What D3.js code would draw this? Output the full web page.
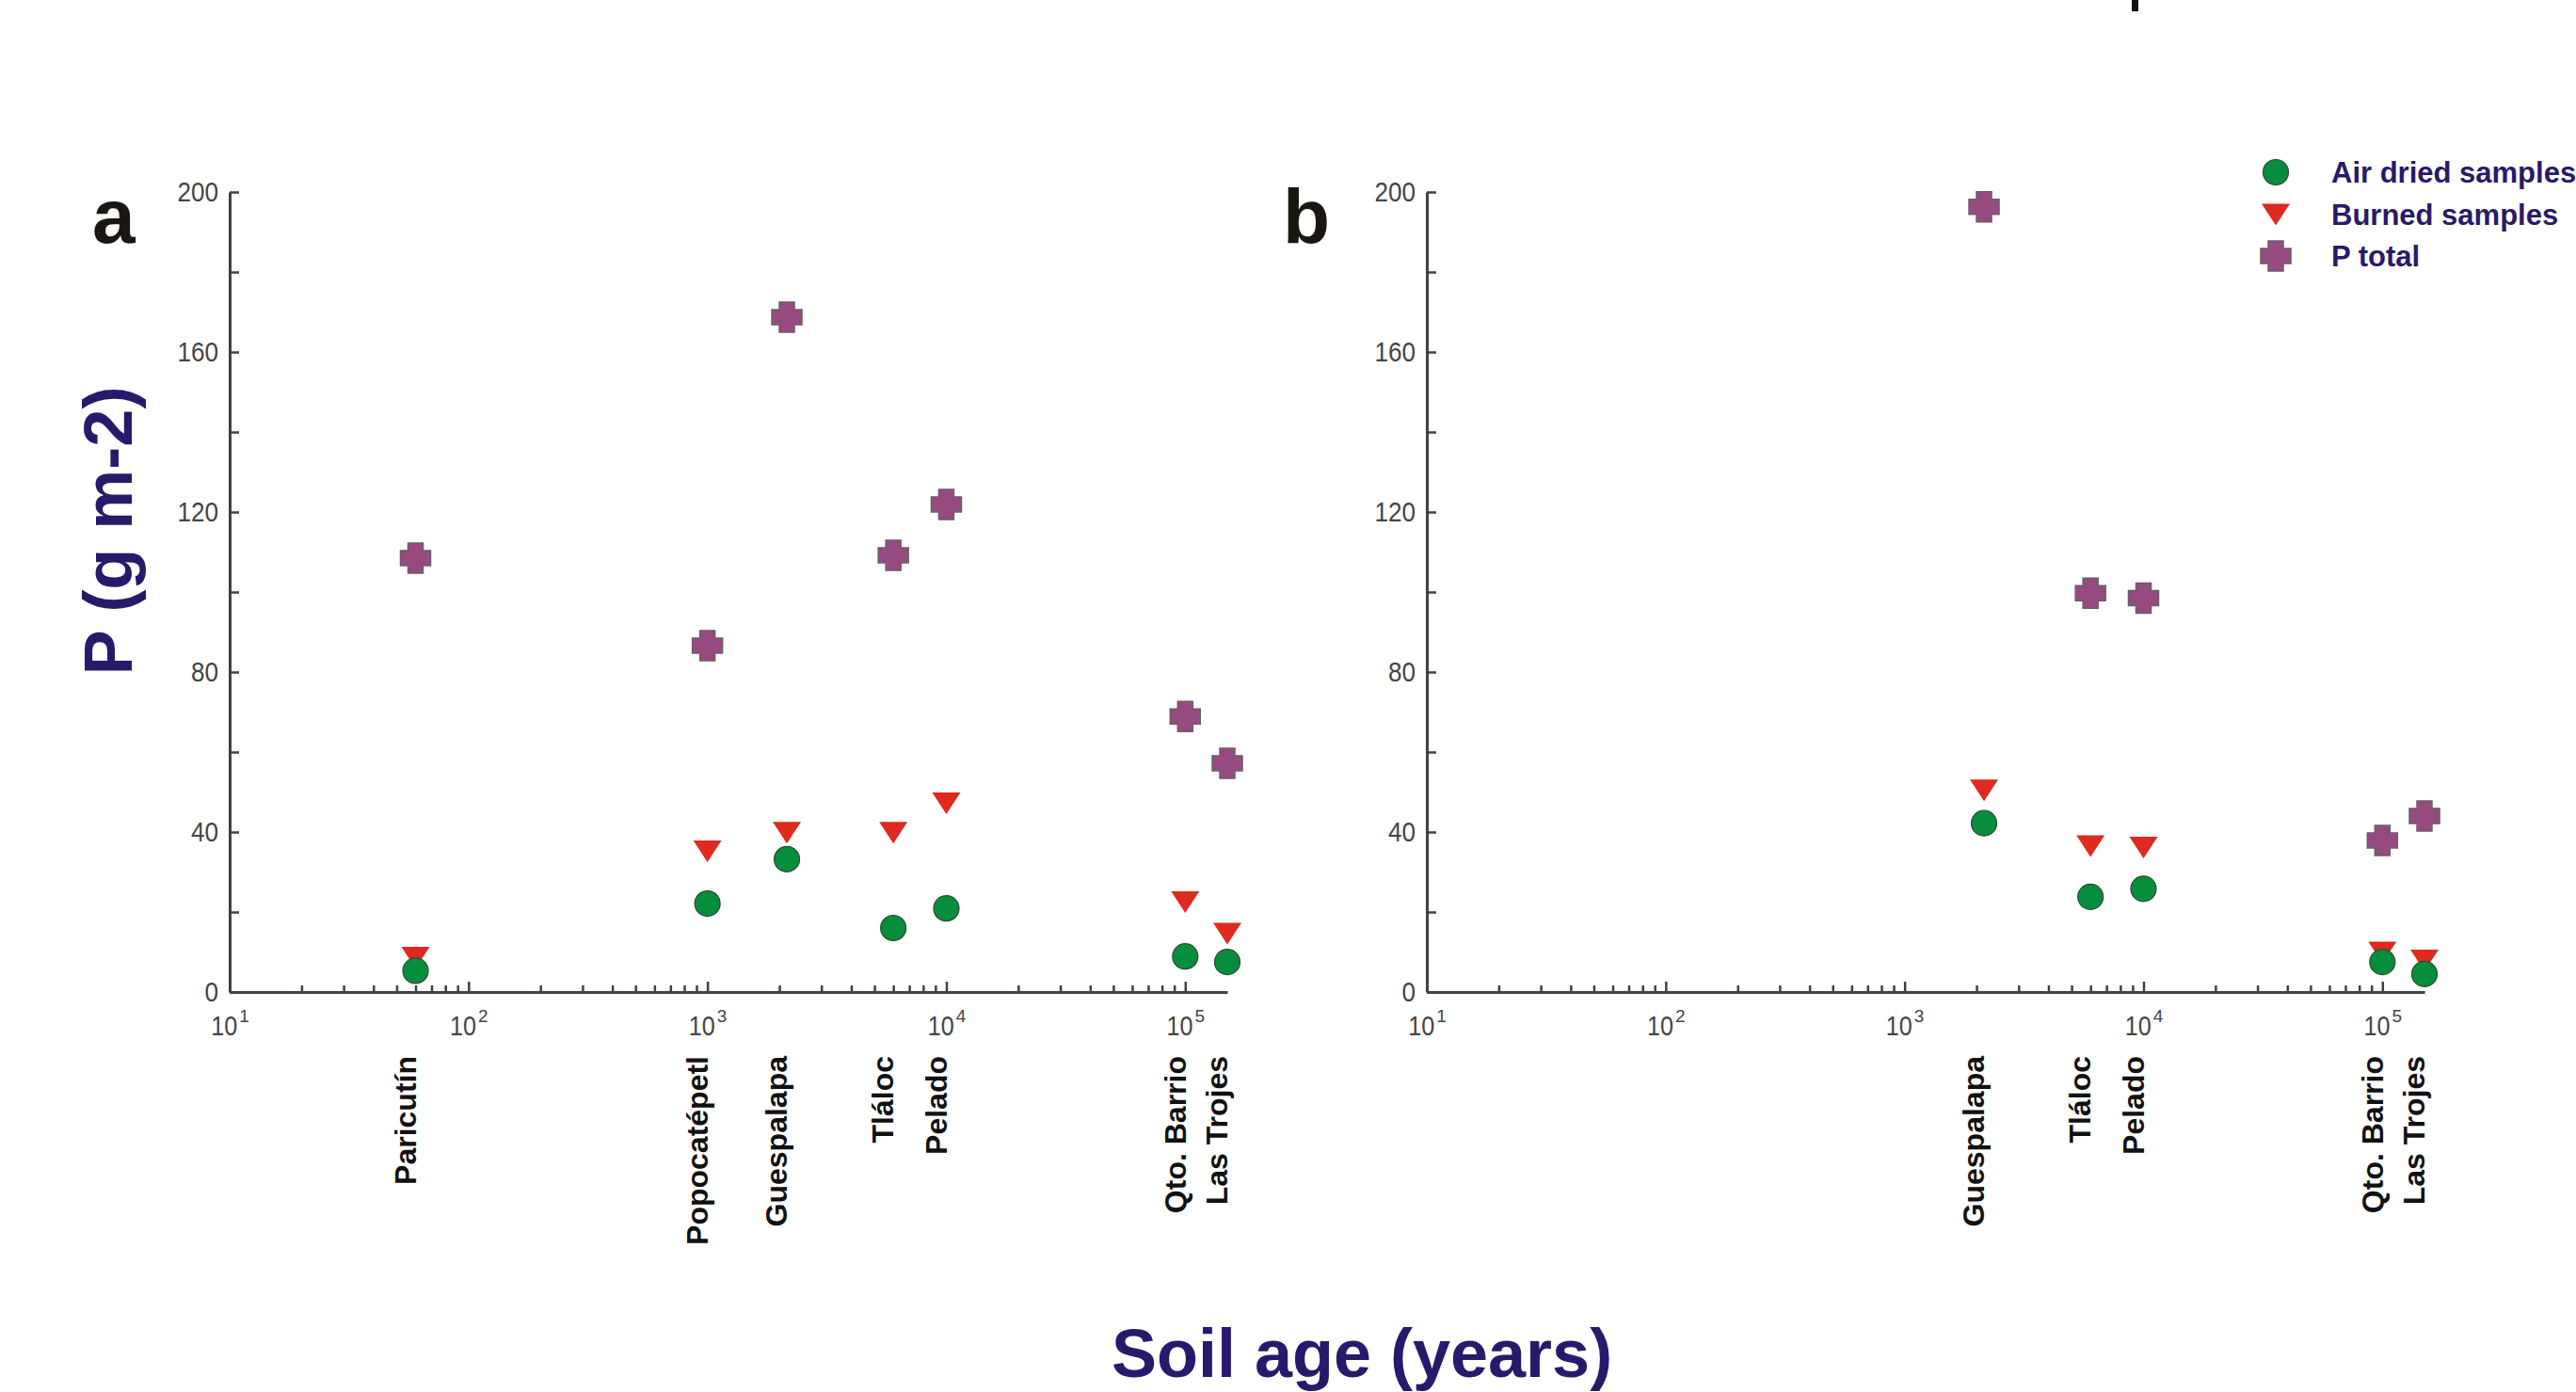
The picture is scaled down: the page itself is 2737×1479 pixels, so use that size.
<!DOCTYPE html>
<html>
<head>
<meta charset="utf-8">
<script src="https://cdn.jsdelivr.net/npm/d3@7"></script>
<style>
    body { margin: 0; background: #fff; }
    text { font-family: "Liberation Sans", Arial, sans-serif; }
    .tick text, .xlbl { font-family: "Liberation Sans Narrow", "Arial Narrow", "Liberation Sans", sans-serif; fill: #454545; }
</style>
</head>
<body>
<svg id="chart"></svg>
<script>
// panel a
const sitesA = ['Paricutín', 'Popocatépetl', 'Guespalapa', 'Tláloc', 'Pelado', 'Qto. Barrio', 'Las Trojes'];
const agesA = [60, 1000, 2150, 6000, 10000, 100000, 150000];
const airA = [5.3, 22.1, 33.2, 16.0, 20.9, 8.9, 7.5];
const burnedA = [8.6, 35.2, 39.8, 39.8, 47.2, 22.5, 14.6];
const totalA = [108.5, 86.6, 168.7, 109.2, 121.9, 68.9, 57.2];

// panel b
const sitesB = ['Guespalapa', 'Tláloc', 'Pelado', 'Qto. Barrio', 'Las Trojes'];
const agesB = [2150, 6000, 10000, 100000, 150000];
const airB = [42.2, 23.8, 25.8, 7.5, 4.5];
const burnedB = [50.4, 36.5, 36.1, 9.9, 7.9];
const totalB = [196.3, 99.7, 98.5, 37.9, 44.0];

// axes
const yTicks = [0, 20, 40, 60, 80, 100, 120, 140, 160, 180, 200];
const yLabels = [0, 40, 80, 120, 160, 200];
const xMajor = [10, 100, 1000, 10000, 100000];
const xExp = ['1', '2', '3', '4', '5'];
const seriesNames = ['Air dried samples', 'Burned samples', 'P total'];

const W = 2737, H = 1479;
const plotW = 1060, plotH = 850;
const navy = '#29196b';
const axisCol = '#3d4247';

const svg = d3.select('#chart').attr('width', W).attr('height', H);
svg.append('rect').attr('width', W).attr('height', H).attr('fill', '#fff');

const x = d3.scaleLog().domain([10, 150000]).range([0, plotW]);
const y = d3.scaleLinear().domain([0, 200]).range([plotH, 0]);

// minor ticks 2..9 for each decade
const xTicks = [];
xMajor.forEach(m => {
    xTicks.push(m);
    if (m < 100000) for (let k = 2; k <= 9; k++) xTicks.push(m * k);
});

// marker shapes
const circlePath = d3.symbol().type(d3.symbolCircle).size(Math.PI * 13.5 * 13.5)();
const triPath = 'M-15,-11.5L15,-11.5L0,11.5Z';
const crossPath = 'M-8,-16H8V-8H16V8H8V16H-8V8H-16V-8H-8Z';

function marker(g, kind) {
    if (kind === 0) return g.append('path').attr('d', circlePath).attr('fill', '#078e3d').attr('stroke', '#2c4a37').attr('stroke-width', 1.2);
    if (kind === 1) return g.append('path').attr('d', triPath).attr('fill', '#de2a1f');
    return g.append('path').attr('d', crossPath).attr('fill', '#974a80').attr('stroke', '#6b5e68').attr('stroke-width', 1.5);
}

function drawPanel(left, top, letter, sites, ages, air, burned, total) {
    const g = svg.append('g').attr('transform', `translate(${left},${top})`);

    //y-axis
    const ya = g.append('g')
        .call(d3.axisLeft(y)
            .tickValues(yTicks)
            .tickSizeInner(-10)
            .tickSizeOuter(0)
            .tickPadding(12)
            .tickFormat(d => yLabels.includes(d) ? d : ''));
    ya.selectAll('.tick text')
        .style('font-size', '30px')
        .filter(d => yLabels.includes(d))
        .attr('textLength', d => String(d).length * 14.5)
        .attr('lengthAdjust', 'spacingAndGlyphs');

    //x-axis
    const xa = g.append('g')
        .attr('transform', `translate(0,${plotH})`)
        .call(d3.axisBottom(x)
            .tickValues(xTicks)
            .tickSizeInner(-11)
            .tickSizeOuter(0)
            .tickFormat(''));
    xa.selectAll('.tick line').attr('y2', d => xMajor.includes(d) ? -11 : -7);
    xa.selectAll('.tick').filter(d => xMajor.includes(d)).each(function (d) {
        const t = d3.select(this).append('text')
            .attr('class', 'xlbl')
            .attr('y', 46)
            .attr('text-anchor', 'middle')
            .style('font-size', '30px');
        t.append('tspan').attr('textLength', 28).attr('lengthAdjust', 'spacingAndGlyphs').text('10');
        t.append('tspan').attr('dy', -14).attr('dx', 2).style('font-size', '19px').text(xExp[xMajor.indexOf(d)]);
    });

    [ya, xa].forEach(a => {
        a.select('.domain').attr('stroke', axisCol).attr('stroke-width', 3);
        a.selectAll('.tick line').attr('stroke', axisCol).attr('stroke-width', 2.5);
    });

    // points
    const rows = ages.map((a, i) => ({ age: a, air: air[i], burned: burned[i], total: total[i], site: sites[i] }));
    [['burned', 1], ['air', 0], ['total', 2]].forEach(([key, kind]) => {
        rows.forEach(r => {
            marker(g, kind).attr('transform', `translate(${x(r.age)},${y(r[key])})`);
        });
    });

    // site names
    g.selectAll('.site')
        .data(rows)
        .enter()
        .append('text')
        .attr('class', 'site')
        .attr('transform', d => `translate(${x(d.age) - 11},${plotH + 68}) rotate(-90)`)
        .attr('dy', '0.35em')
        .attr('text-anchor', 'end')
        .style('font-size', '32px')
        .style('font-weight', 'bold')
        .style('fill', '#111')
        .text(d => d.site);

    // panel letter
    g.append('text')
        .attr('x', letter === 'a' ? -146 : -153)
        .attr('y', 54)
        .style('font-size', '82px')
        .style('font-weight', 'bold')
        .style('fill', '#1a1612')
        .text(letter);
}

drawPanel(244, 204, 'a', sitesA, agesA, airA, burnedA, totalA);
drawPanel(1516, 204, 'b', sitesB, agesB, airB, burnedB, totalB);

//axis labels
svg.append('text')
    .attr('transform', 'translate(140,564) rotate(-90)')
    .attr('text-anchor', 'middle')
    .style('font-size', '72px')
    .style('font-weight', 'bold')
    .style('fill', navy)
    .text('P (g m-2)');

svg.append('text')
    .attr('x', 1447)
    .attr('y', 1463)
    .attr('text-anchor', 'middle')
    .style('font-size', '72px')
    .style('font-weight', 'bold')
    .style('fill', navy)
    .text('Soil age (years)');

// legend
const leg = svg.append('g').attr('transform', 'translate(2418,183)');
seriesNames.forEach((name, i) => {
    const row = leg.append('g').attr('transform', `translate(0,${[0, 45, 89][i]})`);
    marker(row, i);
    row.append('text')
        .attr('x', 59)
        .attr('y', 11)
        .style('font-size', '31px')
        .style('font-weight', 'bold')
        .style('fill', navy)
        .text(name);
});

// cut-off mark at the top edge
svg.append('rect').attr('x', 2265).attr('y', 0).attr('width', 7).attr('height', 12).attr('fill', '#111');
</script>
</body>
</html>
